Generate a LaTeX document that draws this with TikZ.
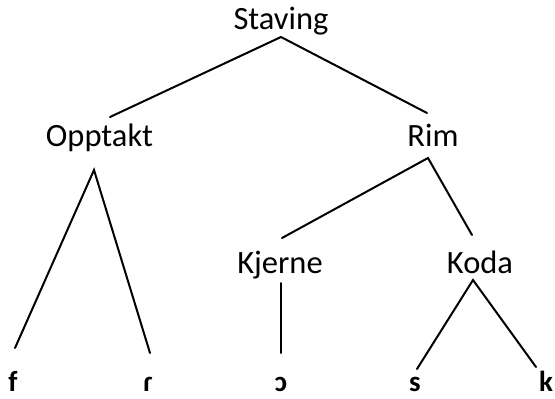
\documentclass[tikz,border=0pt]{standalone}
\usepackage{fontspec}
\setmainfont{Carlito}
\begin{document}
\begin{tikzpicture}[x=1pt,y=-1pt,
  lbl/.style={anchor=base,inner sep=0pt,font=\fontsize{32.5}{38}\selectfont},
  leaf/.style={anchor=base,inner sep=0pt,font=\fontsize{29}{34}\selectfont\bfseries},
  edge/.style={line width=2pt,line cap=round}]
\useasboundingbox (0,0) rectangle (555,399);
% labels
\node[lbl] (staving) at (281,29) {Staving};
\node[lbl] (opptakt) at (99.5,146) {Opptakt};
\node[lbl] (rim) at (433,146) {Rim};
\node[lbl] (kjerne) at (280,273) {Kjerne};
\node[lbl] (koda) at (480,273) {Koda};
\node[leaf] (f) at (13,391) {f};
\node[leaf] (r) at (148,391) {ɾ};
\node[leaf] (o) at (281,391) {ɔ};
\node[leaf] (s) at (415,391) {s};
\node[leaf] (k) at (546,391) {k};
% connector end points
\coordinate (stavingB) at (281,37);
\coordinate (opptaktT) at (110,117);
\coordinate (rimT) at (427,113);
\coordinate (opptaktB) at (94,170);
\coordinate (fT) at (15,348);
\coordinate (rT) at (150,353);
\coordinate (rimB) at (428,158);
\coordinate (kjerneT) at (282,238);
\coordinate (kodaT) at (472,235);
\coordinate (kjerneB) at (281,283);
\coordinate (oT) at (281,353);
\coordinate (kodaB) at (473,280);
\coordinate (sT) at (417,369);
\coordinate (kT) at (536,367);
% connectors
\draw[edge] (opptaktT) -- (stavingB) -- (rimT);
\draw[edge] (fT) -- (opptaktB) -- (rT);
\draw[edge] (kjerneT) -- (rimB) -- (kodaT);
\draw[edge] (kjerneB) -- (oT);
\draw[edge] (sT) -- (kodaB) -- (kT);
\end{tikzpicture}
\end{document}
